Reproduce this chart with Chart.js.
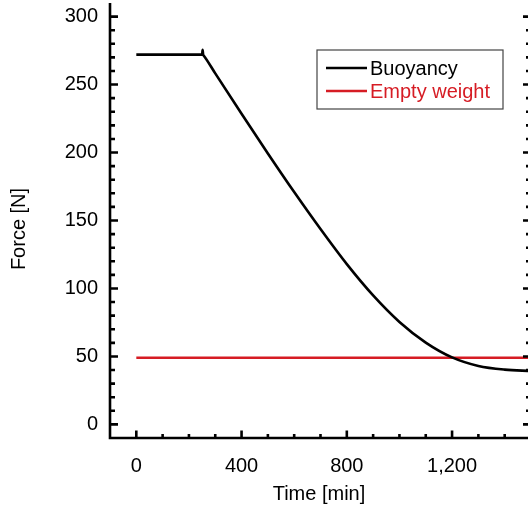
<!DOCTYPE html>
<html>
<head>
<meta charset="utf-8">
<script src="https://cdn.jsdelivr.net/npm/chart.js@4.4.1/dist/chart.umd.min.js"></script>
<style>
html,body{margin:0;padding:0;background:#fff;overflow:hidden;}
canvas{display:block;}
</style>
</head>
<body>
<canvas id="c" width="536" height="508"></canvas>
<script>
// ---- data ----
const timeMin  = [0, 100, 200, 250, 252, 254, 256, 300, 400, 500, 600, 700, 800, 900, 1000, 1100, 1200, 1300, 1400, 1500];
const buoyancy = [272, 272, 272, 272, 275.5, 272, 271.4, 258.2, 228.5, 199.3, 170.9, 143.7, 117.9, 94.9, 75.4, 60.2, 49.3, 43, 40.3, 39.3];
const weightTime = [0, 1500];
const emptyWeight = [49, 49];
const xTickLabels = [0, 400, 800, 1200];
const yTickLabels = [0, 50, 100, 150, 200, 250, 300];
const seriesLabels = ['Buoyancy', 'Empty weight'];
const xTitle = 'Time [min]';
const yTitle = 'Force [N]';

const FONT = '"Liberation Sans", Arial, sans-serif';
const RED = 'rgb(214,28,36)';

const pts = (xs, ys) => xs.map((x, i) => ({x, y: ys[i]}));

const frame = {
  id: 'frame',
  afterDraw(chart) {
    const ctx = chart.ctx, xs = chart.scales.x, ys = chart.scales.y, a = chart.chartArea;
    ctx.save();
    ctx.strokeStyle = '#000';
    ctx.lineWidth = 2.6;
    ctx.lineCap = 'butt';
    ctx.beginPath();
    ctx.moveTo(a.left, a.top); ctx.lineTo(a.left, a.bottom);
    ctx.lineTo(a.right, a.bottom); ctx.lineTo(a.right, a.top);
    ctx.stroke();
    // x ticks (inside): minor every 100, major every 400
    for (let v = 0; v <= 1400; v += 100) {
      const p = xs.getPixelForValue(v);
      const len = (v % 400 === 0) ? 7.5 : 4;
      ctx.beginPath();
      ctx.moveTo(p, a.bottom); ctx.lineTo(p, a.bottom - len);
      ctx.stroke();
    }
    // y ticks (inside): minor every 10, major every 50
    for (let v = 0; v <= 300; v += 10) {
      const p = ys.getPixelForValue(v);
      const len = (v % 50 === 0) ? 8 : 5;
      ctx.beginPath();
      ctx.moveTo(a.left, p); ctx.lineTo(a.left + len, p);
      ctx.moveTo(a.right, p); ctx.lineTo(a.right - len, p);
      ctx.stroke();
    }
    // axis titles
    ctx.fillStyle = '#000';
    ctx.font = '20px ' + FONT;
    ctx.textAlign = 'center';
    ctx.textBaseline = 'middle';
    ctx.fillText(xTitle, (a.left + 528) / 2, 494);
    ctx.save();
    ctx.translate(19, 229);
    ctx.rotate(-Math.PI / 2);
    ctx.fillText(yTitle, 0, 0);
    ctx.restore();
    // legend
    const bx = 317, by = 50, bw = 186, bh = 59;
    ctx.lineWidth = 1.2;
    ctx.strokeStyle = '#444';
    ctx.fillStyle = '#fff';
    ctx.fillRect(bx, by, bw, bh);
    ctx.strokeRect(bx, by, bw, bh);
    const ds = chart.data.datasets;
    ds.forEach((d, i) => {
      const y = by + 18 + i * 23;
      ctx.strokeStyle = d.borderColor;
      ctx.lineWidth = d.borderWidth;
      ctx.beginPath();
      ctx.moveTo(bx + 9, y); ctx.lineTo(bx + 50, y);
      ctx.stroke();
      ctx.fillStyle = d.borderColor;
      ctx.textAlign = 'left';
      ctx.fillText(d.label, bx + 53, y + 1);
    });
    ctx.restore();
  }
};

new Chart(document.getElementById('c'), {
  type: 'line',
  data: {
    datasets: [
      { label: seriesLabels[0], data: pts(timeMin, buoyancy), borderColor: '#000', borderWidth: 2.6,
        pointRadius: 0, cubicInterpolationMode: 'monotone', fill: false },
      { label: seriesLabels[1], data: pts(weightTime, emptyWeight), borderColor: RED, borderWidth: 2.4,
        pointRadius: 0, fill: false }
    ]
  },
  options: {
    responsive: false,
    animation: false,
    devicePixelRatio: 1,
    layout: { padding: { left: 0, right: 5, top: 3, bottom: 0 } },
    plugins: { legend: { display: false }, tooltip: { enabled: false } },
    scales: {
      x: {
        type: 'linear', min: -100, max: 1500,
        grid: { display: false, drawTicks: false, tickLength: 0 },
        border: { display: false },
        afterBuildTicks: s => { s.ticks = xTickLabels.map(v => ({value: v})); },
        afterFit: s => { s.height = 508 - 435 - 3; s.paddingLeft = 0; s.paddingRight = 0; },
        ticks: { color: '#000', font: { family: FONT, size: 20 }, padding: 16, maxRotation: 0,
                 callback: v => v.toLocaleString('en-US') }
      },
      y: {
        type: 'linear', min: -10, max: 310,
        grid: { display: false, drawTicks: false, tickLength: 0 },
        border: { display: false },
        afterBuildTicks: s => { s.ticks = yTickLabels.map(v => ({value: v})); },
        afterFit: s => { s.width = 110; s.paddingTop = 0; s.paddingBottom = 0; },
        ticks: { color: '#000', font: { family: FONT, size: 20 }, padding: 12 }
      }
    }
  },
  plugins: [frame]
});
</script>
</body>
</html>
